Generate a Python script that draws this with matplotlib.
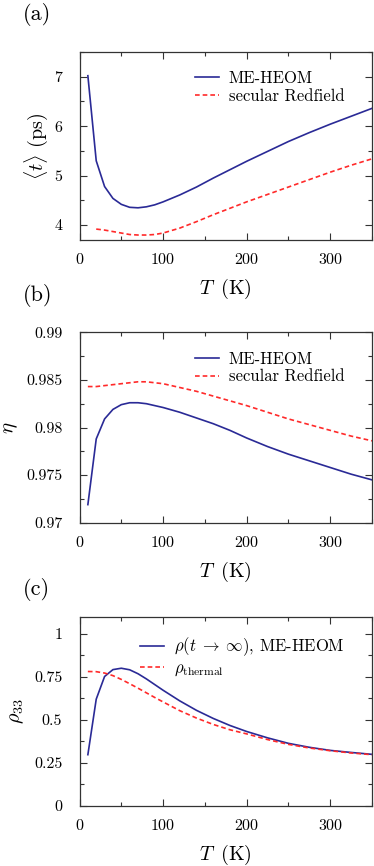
import matplotlib
matplotlib.use("Agg")
import matplotlib.pyplot as plt
from matplotlib.ticker import MultipleLocator, FuncFormatter

plt.rcParams['font.family'] = 'serif'
plt.rcParams['font.serif'] = ['cmr10']
plt.rcParams['mathtext.fontset'] = 'cm'
plt.rcParams['axes.formatter.use_mathtext'] = True
plt.rcParams['axes.unicode_minus'] = False

# temperatures (K)
T = [10, 20, 30, 40, 50, 60, 70, 80, 90, 100, 120, 140, 160, 180, 200,
     225, 250, 275, 300, 325, 350]
T_red_a = T[1:]

# (a) mean transfer time <t> (ps)
t_heom = [7.02, 5.30, 4.78, 4.54, 4.42, 4.36, 4.35, 4.37, 4.41, 4.47, 4.61,
          4.77, 4.95, 5.12, 5.29, 5.49, 5.69, 5.87, 6.04, 6.20, 6.36]
t_red = [3.92, 3.90, 3.87, 3.84, 3.81, 3.80, 3.80, 3.81, 3.84, 3.94,
         4.07, 4.21, 4.34, 4.47, 4.62, 4.77, 4.92, 5.07, 5.21, 5.34]

# (b) efficiency eta
eta_heom = [0.9719, 0.9788, 0.9809, 0.9819, 0.9824, 0.9826, 0.9826, 0.9825,
            0.9823, 0.9821, 0.9816, 0.9810, 0.9804, 0.9797, 0.9789, 0.9780,
            0.9772, 0.9765, 0.9758, 0.9751, 0.9745]
eta_red = [0.9843, 0.9843, 0.9844, 0.9845, 0.9846, 0.9847, 0.9848, 0.9848,
           0.9847, 0.9846, 0.9842, 0.9838, 0.9833, 0.9828, 0.9823, 0.9816,
           0.9809, 0.9803, 0.9797, 0.9791, 0.9786]

# (c) rho_33
rho_heom = [0.297, 0.620, 0.752, 0.792, 0.800, 0.791, 0.768, 0.738, 0.705,
            0.672, 0.610, 0.555, 0.508, 0.467, 0.432, 0.395, 0.363, 0.340,
            0.322, 0.310, 0.299]
rho_thermal = [0.781, 0.780, 0.772, 0.757, 0.735, 0.710, 0.684, 0.657, 0.630,
               0.604, 0.553, 0.510, 0.473, 0.442, 0.418, 0.385, 0.357, 0.336,
               0.320, 0.307, 0.297]

BLUE = '#2a2a96'
RED = '#ff2a2a'
DASH = (0, (2.8, 1.8))
fig = plt.figure(figsize=(3.74, 8.66), dpi=100)

ax_a = fig.add_axes([0.2126, 0.7229, 0.782, 0.2171])
ax_b = fig.add_axes([0.2126, 0.3964, 0.782, 0.2199])
ax_c = fig.add_axes([0.2126, 0.0696, 0.782, 0.2183])

fmt = FuncFormatter(lambda v, p: '%g' % round(v, 4))


def style(ax):
    ax.set_xlim(0, 350)
    ax.xaxis.set_major_locator(MultipleLocator(100))
    ax.xaxis.set_minor_locator(MultipleLocator(50))
    ax.tick_params(which='both', direction='in', top=True, right=True,
                   labelsize=11.5, colors='#333333', labelcolor='black')
    ax.tick_params(which='major', length=5, width=0.8)
    ax.tick_params(which='minor', length=3, width=0.8)
    ax.tick_params(axis='x', which='major', pad=9)
    ax.tick_params(axis='y', which='major', pad=12.5)
    for s in ax.spines.values():
        s.set_color('#333333')
        s.set_linewidth(0.9)
    ax.set_xlabel(r'$T\,$ (K)', fontsize=14.5, labelpad=7)
    ax.yaxis.set_major_formatter(fmt)


ax_a.plot(T, t_heom, color=BLUE, lw=1.2, label='ME-HEOM')
ax_a.plot(T_red_a, t_red, color=RED, lw=1.2, ls=DASH, label='secular Redfield')
style(ax_a)
ax_a.set_ylim(3.7, 7.5)
ax_a.yaxis.set_major_locator(MultipleLocator(1))
ax_a.yaxis.set_minor_locator(MultipleLocator(0.5))
ax_a.set_ylabel(r'$\langle t\rangle$ (ps)', fontsize=14.5)
ax_a.yaxis.set_label_coords(-0.1, 0.5)

ax_b.plot(T, eta_heom, color=BLUE, lw=1.2, label='ME-HEOM')
ax_b.plot(T, eta_red, color=RED, lw=1.2, ls=DASH, label='secular Redfield')
style(ax_b)
ax_b.set_ylim(0.97, 0.99)
ax_b.yaxis.set_major_locator(MultipleLocator(0.005))
ax_b.yaxis.set_minor_locator(MultipleLocator(0.0025))
ax_b.set_ylabel(r'$\eta$', fontsize=15)
ax_b.yaxis.set_label_coords(-0.205, 0.5)

ax_c.plot(T, rho_heom, color=BLUE, lw=1.2,
          label=r'$\rho(t\;\rightarrow\;\infty)$, ME-HEOM')
ax_c.plot(T, rho_thermal, color=RED, lw=1.2, ls=DASH, label=r'$\rho_{\rm thermal}$')
style(ax_c)
ax_c.set_ylim(0, 1.1)
ax_c.yaxis.set_major_locator(MultipleLocator(0.25))
ax_c.yaxis.set_minor_locator(MultipleLocator(0.125))
ax_c.set_ylabel(r'$\rho_{33}$', fontsize=14.5)
ax_c.yaxis.set_label_coords(-0.183, 0.5)

for ax in (ax_a, ax_b, ax_c):
    ax.legend(loc='upper right', bbox_to_anchor=(0.905, 0.9), frameon=False,
              fontsize=12, handlelength=1.45, handletextpad=0.55,
              labelspacing=0.15, borderaxespad=0, borderpad=0)

fig.text(0.06, 0.983, '(a)', fontsize=16, va='center')
fig.text(0.06, 0.659, '(b)', fontsize=16, va='center')
fig.text(0.06, 0.319, '(c)', fontsize=16, va='center')

fig.savefig('out.png', dpi=100)
